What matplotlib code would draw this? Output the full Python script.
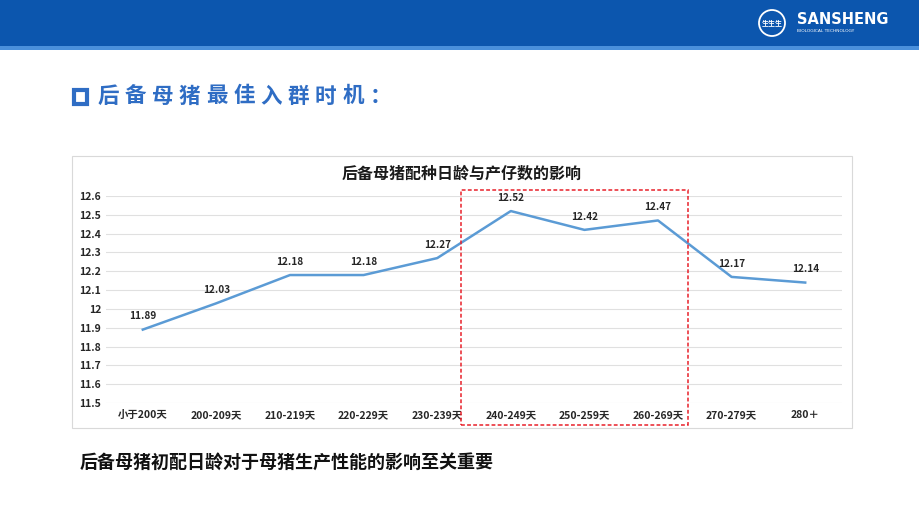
import matplotlib.pyplot as plt
from matplotlib.patches import Rectangle, Ellipse
import numpy as np

plt.rcParams['font.family'] = ['Noto Sans CJK SC', 'DejaVu Sans']
plt.rcParams['axes.unicode_minus'] = False

# 数据
categories = ['小于200天', '200-209天', '210-219天', '220-229天', '230-239天',
              '240-249天', '250-259天', '260-269天', '270-279天', '280＋']
litter_size = [11.89, 12.03, 12.18, 12.18, 12.27, 12.52, 12.42, 12.47, 12.17, 12.14]
y_ticks = [11.5, 11.6, 11.7, 11.8, 11.9, 12.0, 12.1, 12.2, 12.3, 12.4, 12.5, 12.6]
heading = '后备母猪最佳入群时机：'

W, H = 920, 518
fig = plt.figure(figsize=(W / 100, H / 100), dpi=100)
fig.patch.set_facecolor('white')


def px(x, y):
    return x / W, 1 - y / H


# 顶部蓝色条
fig.patches.append(Rectangle(px(0, 46), 1, 46 / H, transform=fig.transFigure,
                             facecolor='#0c56ae', edgecolor='none', zorder=0))
fig.patches.append(Rectangle(px(0, 50), 1, 4 / H, transform=fig.transFigure,
                             facecolor='#4a90dc', edgecolor='none', zorder=0))
# logo
fig.patches.append(Ellipse(px(772, 23), 26 / W, 26 / H, transform=fig.transFigure,
                           facecolor='none', edgecolor='white', linewidth=1.3))
fig.text(*px(772, 23), '生生生', color='white', fontsize=5, fontweight='bold',
         ha='center', va='center')
fig.text(*px(797, 20), 'SANSHENG', color='white', fontsize=10.5, fontweight='bold',
         ha='left', va='center', family=['DejaVu Sans'])
fig.text(*px(797, 31), 'BIOLOGICAL TECHNOLOGY', color='white', fontsize=3.2,
         ha='left', va='center', family=['DejaVu Sans'])

# 标题
fig.patches.append(Rectangle(px(74, 104), 13 / W, 14 / H, transform=fig.transFigure,
                             facecolor='none', edgecolor='#2f6dc4', linewidth=3))
for i, ch in enumerate(heading):
    fig.text(*px(108 + i * 27.2, 96), ch, color='#2f6dc4', fontsize=15.5,
             fontweight='bold', ha='center', va='center')

# 图表外框
fig.patches.append(Rectangle(px(72, 428), 780 / W, 272 / H, transform=fig.transFigure,
                             facecolor='white', edgecolor='#d9d9d9', linewidth=0.8,
                             zorder=0))

ax = fig.add_axes([106 / W, 1 - 403 / H, 736 / W, 207 / H])
ax.set_zorder(2)
ax.patch.set_alpha(0)
x = np.arange(len(categories))
ax.plot(x, litter_size, color='#5b9bd5', linewidth=1.8, zorder=3)
for xi, v in zip(x, litter_size):
    ax.annotate(f'{v:.2f}', (xi, v), xytext=(0, 6), textcoords='offset points',
                ha='center', va='bottom', fontsize=7.2, fontweight='bold', color='#262626')

ax.set_xlim(-0.5, len(categories) - 0.5)
ax.set_ylim(11.5, 12.6)
ax.set_yticks(y_ticks)
ax.set_yticklabels([f'{v:g}' for v in y_ticks])
ax.set_xticks(x)
ax.set_xticklabels(categories)
ax.grid(axis='y', color='#e0e0e0', linewidth=0.8)
ax.set_axisbelow(True)
for s in ax.spines.values():
    s.set_visible(False)
ax.tick_params(length=0, labelsize=7.5, colors='#262626')
ax.tick_params(axis='x', pad=5)
for lab in ax.get_xticklabels() + ax.get_yticklabels():
    lab.set_fontweight('bold')

fig.text(*px(462, 174), '后备母猪配种日龄与产仔数的影响', fontsize=11.5,
         fontweight='bold', color='#1a1a1a', ha='center', va='center')

# 红色虚线框
fig.patches.append(Rectangle(px(461, 425), 227 / W, 235 / H, transform=fig.transFigure,
                             facecolor='none', edgecolor='#e8202a', linewidth=1.1,
                             linestyle=(0, (2.5, 1.5)), zorder=5))

fig.text(*px(80, 462), '后备母猪初配日龄对于母猪生产性能的影响至关重要', fontsize=13,
         fontweight='bold', color='#111111', ha='left', va='center')

fig.savefig('out.png', dpi=100)
